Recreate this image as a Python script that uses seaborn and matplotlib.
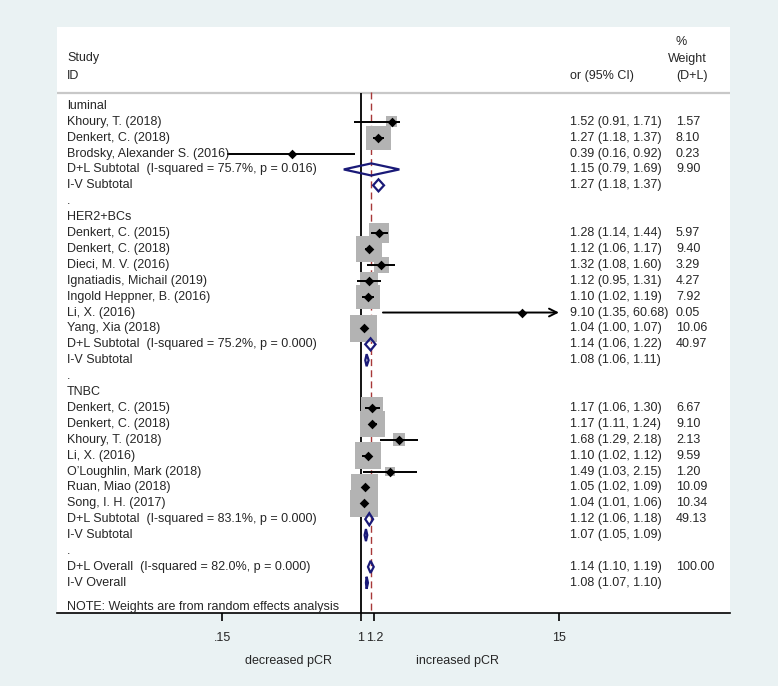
import numpy as np
import pandas as pd
import matplotlib
matplotlib.use('Agg')
import matplotlib.pyplot as plt
import seaborn as sns
from matplotlib.transforms import blended_transform_factory

# Data
groups = ['luminal', 'HER2+BCs', 'TNBC']

luminal_study = ['Khoury, T. (2018)', 'Denkert, C. (2018)', 'Brodsky, Alexander S. (2016)']
luminal_or = [1.52, 1.27, 0.39]
luminal_lo = [0.91, 1.18, 0.16]
luminal_hi = [1.71, 1.37, 0.92]
luminal_wt = [1.57, 8.10, 0.23]

her2_study = ['Denkert, C. (2015)', 'Denkert, C. (2018)', 'Dieci, M. V. (2016)',
              'Ignatiadis, Michail (2019)', 'Ingold Heppner, B. (2016)', 'Li, X. (2016)',
              'Yang, Xia (2018)']
her2_or = [1.28, 1.12, 1.32, 1.12, 1.10, 9.10, 1.04]
her2_lo = [1.14, 1.06, 1.08, 0.95, 1.02, 1.35, 1.00]
her2_hi = [1.44, 1.17, 1.60, 1.31, 1.19, 60.68, 1.07]
her2_wt = [5.97, 9.40, 3.29, 4.27, 7.92, 0.05, 10.06]

tnbc_study = ['Denkert, C. (2015)', 'Denkert, C. (2018)', 'Khoury, T. (2018)', 'Li, X. (2016)',
              'O\u2019Loughlin, Mark (2018)', 'Ruan, Miao (2018)', 'Song, I. H. (2017)']
tnbc_or = [1.17, 1.17, 1.68, 1.10, 1.49, 1.05, 1.04]
tnbc_lo = [1.06, 1.11, 1.29, 1.02, 1.03, 1.02, 1.01]
tnbc_hi = [1.30, 1.24, 2.18, 1.12, 2.15, 1.09, 1.06]
tnbc_wt = [6.67, 9.10, 2.13, 9.59, 1.20, 10.09, 10.34]

# subtotals per group
dl_or = [1.15, 1.14, 1.12]
dl_lo = [0.79, 1.06, 1.06]
dl_hi = [1.69, 1.22, 1.18]
dl_wt = [9.90, 40.97, 49.13]
dl_i2 = [75.7, 75.2, 83.1]
dl_p = ['0.016', '0.000', '0.000']
iv_or = [1.27, 1.08, 1.07]
iv_lo = [1.18, 1.06, 1.05]
iv_hi = [1.37, 1.11, 1.09]

# overall
overall_dl = [1.14, 1.10, 1.19, 100.00, 82.0, '0.000']
overall_iv = [1.08, 1.07, 1.10]

ticks = [0.15, 1, 1.2, 15]
tick_labels = ['.15', '1', '1.2', '15']

# Build row table
study_sets = [
    (luminal_study, luminal_or, luminal_lo, luminal_hi, luminal_wt),
    (her2_study, her2_or, her2_lo, her2_hi, her2_wt),
    (tnbc_study, tnbc_or, tnbc_lo, tnbc_hi, tnbc_wt),
]
rows = []
for g, (st, o, lo, hi, wt) in enumerate(study_sets):
    if g > 0:
        rows.append(dict(label='.', kind='dot'))
    rows.append(dict(label=groups[g], kind='head'))
    for i in range(len(st)):
        rows.append(dict(label=st[i], kind='study', est=o[i], lo=lo[i], hi=hi[i], wt=wt[i]))
    rows.append(dict(label=f'D+L Subtotal  (I-squared = {dl_i2[g]}%, p = {dl_p[g]})', kind='dl',
                     est=dl_or[g], lo=dl_lo[g], hi=dl_hi[g], wt=dl_wt[g]))
    rows.append(dict(label='I-V Subtotal', kind='iv', est=iv_or[g], lo=iv_lo[g], hi=iv_hi[g]))
rows.append(dict(label='.', kind='dot'))
rows.append(dict(label=f'D+L Overall  (I-squared = {overall_dl[4]}%, p = {overall_dl[5]})', kind='dl',
                 est=overall_dl[0], lo=overall_dl[1], hi=overall_dl[2], wt=overall_dl[3]))
rows.append(dict(label='I-V Overall', kind='iv', est=overall_iv[0], lo=overall_iv[1], hi=overall_iv[2]))
df = pd.DataFrame(rows)
df['row'] = np.arange(len(df))
studies = df[df.kind == 'study']

# Figure
sns.set_style('white')
plt.rcParams['font.family'] = ['Liberation Sans', 'DejaVu Sans']
plt.rcParams['font.size'] = 9

bg = '#eaf2f3'
navy = '#1a1a78'
fig = plt.figure(figsize=(7.78, 6.86), dpi=100, facecolor=bg)
ax = fig.add_axes([57/778, 1 - 613/686, 673/778, 586/686])
ax.set_facecolor('white')
ax.set_xscale('log')
ax.set_xlim(np.exp(-304/73.1), np.exp(369/73.1))
ax.set_ylim(31.9, -4.96)
sep = -0.8
xmax = max(ticks)

ax.axhline(sep, color='#c8c8c8', lw=1.6, zorder=1)
ax.vlines(1, sep, 31.9, color='black', lw=1.3, zorder=1)
ax.vlines(overall_dl[0], sep - 0.1, 31.9, color='#a83838', lw=1.0,
          linestyles=(0, (5, 3)), zorder=1)

# weight squares
ax.scatter(studies['est'], studies['row'], s=studies['wt'] * 37.6, marker='s',
           color='#b3b3b3', linewidths=0, zorder=2)

# confidence intervals
for _, r in studies.iterrows():
    if r['hi'] > xmax:
        ax.annotate('', xy=(xmax, r['row']), xytext=(r['lo'], r['row']),
                    arrowprops=dict(arrowstyle='->', lw=1.4, color='black',
                                    mutation_scale=14, shrinkA=0, shrinkB=0), zorder=3)
    else:
        ax.hlines(r['row'], r['lo'], r['hi'], color='black', lw=1.4, zorder=3)

sns.scatterplot(data=studies, x='est', y='row', marker='D', s=24, color='black',
                linewidth=0, zorder=4, ax=ax, legend=False)

# pooled diamonds
h = 0.38
for _, r in df[df.kind.isin(['dl', 'iv'])].iterrows():
    y = r['row']
    ax.fill([r['lo'], r['est'], r['hi'], r['est']], [y, y - h, y, y + h],
            facecolor='none', edgecolor=navy, lw=1.6, zorder=3)

# text columns
tr = blended_transform_factory(ax.transAxes, ax.transData)
x_lab, x_est, x_wt = 10/673, 513/673, 619/673
for _, r in df.iterrows():
    ax.text(x_lab, r['row'], r['label'], transform=tr, va='center', ha='left')
    if r['kind'] in ('study', 'dl', 'iv'):
        ax.text(x_est, r['row'], f"{r['est']:.2f} ({r['lo']:.2f}, {r['hi']:.2f})",
                transform=tr, va='center', ha='left')
    if r['kind'] in ('study', 'dl'):
        ax.text(x_wt, r['row'], f"{r['wt']:.2f}", transform=tr, va='center', ha='left')
ax.text(x_lab, 31.5, 'NOTE: Weights are from random effects analysis', transform=tr,
        va='center', ha='left')

# header
ax.text(x_lab, -3.0, 'Study', transform=tr, va='center', ha='left')
ax.text(x_lab, -1.87, 'ID', transform=tr, va='center', ha='left')
ax.text(x_est, -1.87, 'or (95% CI)', transform=tr, va='center', ha='left')
ax.text(x_wt, -4.0, '%', transform=tr, va='center', ha='left')
ax.text(611/673, -2.94, 'Weight', transform=tr, va='center', ha='left')
ax.text(x_wt, -1.87, '(D+L)', transform=tr, va='center', ha='left')

# axis
for s in ['top', 'left', 'right']:
    ax.spines[s].set_visible(False)
ax.spines['bottom'].set_color('black')
ax.spines['bottom'].set_linewidth(1.2)
ax.set_xticks(ticks)
ax.set_xticklabels(tick_labels)
ax.xaxis.set_minor_locator(matplotlib.ticker.NullLocator())
ax.tick_params(axis='x', length=6, width=1.2, color='black', direction='out', pad=8,
               labelsize=9, bottom=True)
ax.set_yticks([])
ax.set_xlabel('')
ax.set_ylabel('')

xt = blended_transform_factory(ax.transData, ax.transAxes)
ax.text(np.exp(-72/73.1), -0.0815, 'decreased pCR', transform=xt, ha='center', va='center')
ax.text(np.exp(97/73.1), -0.0815, 'increased pCR', transform=xt, ha='center', va='center')

fig.savefig('out.png', dpi=100, facecolor=fig.get_facecolor())
